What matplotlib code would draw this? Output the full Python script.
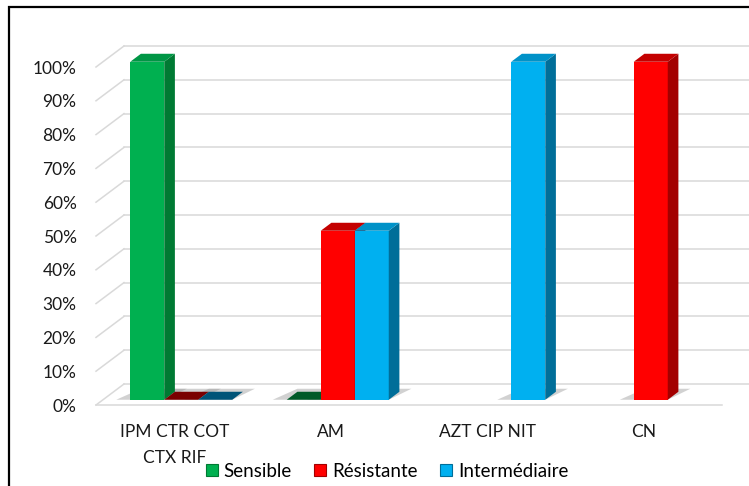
import matplotlib.pyplot as plt
from matplotlib.patches import Polygon, Patch, Rectangle

plt.rcParams['font.family'] = ['Lato', 'DejaVu Sans']

# données
categories = ['IPM CTR COT\nCTX RIF', 'AM', 'AZT CIP NIT', 'CN']
series = ['Sensible', 'Résistante', 'Intermédiaire']
sensible = [100, 0, None, None]
resistante = [0, 50, None, 100]
intermediaire = [0, 50, 100, None]
valeurs = [sensible, resistante, intermediaire]
yticks = list(range(0, 101, 10))

# couleurs : face avant, côté, dessus, barre à zéro
face = ['#00B050', '#FF0000', '#00B0F0']
cote = ['#007A33', '#A30000', '#006E99']
dessus = ['#009645', '#C40000', '#0092C8']
plat = ['#005A28', '#7A0000', '#005478']

W, H = 749, 486
fig = plt.figure(figsize=(W / 100, H / 100), dpi=100)
# plan avant du graphe en pixels : x 96..722, y 405 (0%) .. 67 (100%)
ax = fig.add_axes([96 / W, (H - 405) / H, 626 / W, 338 / H])
ax.set_xlim(0, len(categories))
ax.set_ylim(0, 100)

XU = 626 / len(categories)   # px par catégorie
YU = 338 / 100                # px par %
DX = 28 / XU                  # profondeur du plancher
DY = 21 / YU
w = 34 / XU                   # largeur d'une barre
d0, d1 = 0.25, 0.63           # profondeur des barres

grid = '#D9D9D9'
for t in yticks:
    ax.plot([0, DX], [t, t + DY], color=grid, lw=1.1, clip_on=False, zorder=1)
    ax.plot([DX, len(categories) + DX], [t + DY, t + DY], color=grid, lw=1.1,
            clip_on=False, zorder=1)
ax.plot([0, len(categories)], [0, 0], color=grid, lw=1.1, clip_on=False, zorder=1)

for i in range(len(categories)):
    for j, vals in enumerate(valeurs):
        v = vals[i]
        if v is None:
            continue
        x0 = i + 0.5 + (j - 1.5) * w + d0 * DX
        y0 = d0 * DY
        bx, by = (d1 - d0) * DX, (d1 - d0) * DY
        # ombre au sol
        ombre = [(x0 - 14 / XU, y0), (x0 + w, y0),
                 (x0 + w + bx + 12 / XU, y0 + 11 / YU), (x0 + bx, y0 + 11 / YU)]
        ax.add_patch(Polygon(ombre, closed=True, facecolor='#9A9A9A', alpha=0.45,
                             edgecolor='none', zorder=2, clip_on=False))
        if v == 0:
            top = [(x0, y0), (x0 + w, y0), (x0 + w + bx, y0 + by), (x0 + bx, y0 + by)]
            ax.add_patch(Polygon(top, closed=True, facecolor=plat[j],
                                 edgecolor='none', zorder=3 + i, clip_on=False))
            continue
        ax.bar(x0, v, width=w, bottom=y0, align='edge', color=face[j],
               zorder=3 + i, clip_on=False)
        side = [(x0 + w, y0), (x0 + w + bx, y0 + by),
                (x0 + w + bx, y0 + v + by), (x0 + w, y0 + v)]
        ax.add_patch(Polygon(side, closed=True, facecolor=cote[j],
                             edgecolor='none', zorder=3 + i, clip_on=False))
        top = [(x0, y0 + v), (x0 + w, y0 + v),
               (x0 + w + bx, y0 + v + by), (x0 + bx, y0 + v + by)]
        ax.add_patch(Polygon(top, closed=True, facecolor=dessus[j],
                             edgecolor='none', zorder=3 + i, clip_on=False))

ax.set_yticks(yticks)
ax.set_yticklabels([f'{t}%' for t in yticks], fontsize=12.5, color='#1a1a1a')
ax.set_xticks([i + 0.5 for i in range(len(categories))])
ax.set_xticklabels(categories, fontsize=12.5, color='#1a1a1a', linespacing=1.75)
ax.tick_params(axis='y', length=0, pad=14)
ax.tick_params(axis='x', length=0, pad=14)
for s in ax.spines.values():
    s.set_visible(False)

handles = [Patch(facecolor=face[j], edgecolor=cote[j], lw=0.8, label=series[j])
           for j in range(3)]
fig.legend(handles=handles, loc='center', bbox_to_anchor=(387 / W, 1 - 471 / H),
           ncol=3, frameon=False, fontsize=13.5, handlelength=0.65, handleheight=0.65,
           handletextpad=0.3, columnspacing=1.2)

# cadre
fig.add_artist(Rectangle((9 / W, -0.1), 1.2, 1.1 - 7 / H, transform=fig.transFigure,
                         fill=False, edgecolor='black', lw=1.6, clip_on=False))

fig.savefig('out.png', dpi=100)
